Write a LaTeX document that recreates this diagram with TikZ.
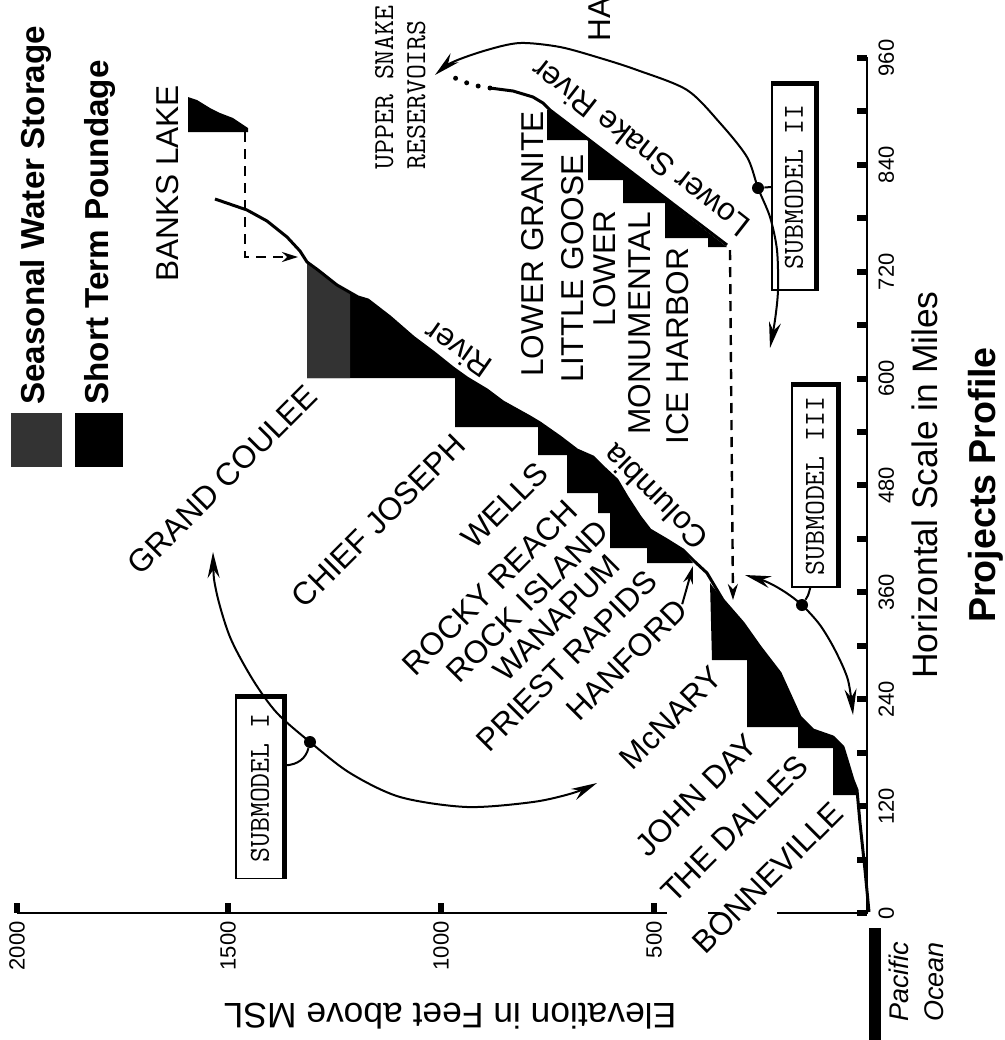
\documentclass[tikz,border=0pt]{standalone}
\usepackage{fontspec}
\setmainfont{Liberation Sans}
\usetikzlibrary{arrows.meta, calc}

\begin{document}
\begin{tikzpicture}[x=0.5pt, y=-0.5pt,
    lbl/.style={font=\fontsize{15.8}{18}\selectfont, inner sep=0},
    dam/.style={lbl, rotate=45, anchor=north east},
    vlbl/.style={lbl, rotate=90},
    num/.style={font=\fontsize{11}{13}\selectfont, inner sep=0, rotate=90},
    keytext/.style={font=\bfseries\fontsize{16.6}{19}\selectfont, inner sep=0, rotate=90, anchor=base west},
    subbox/.style={draw, line width=0.8pt, rotate=90, font=\ttfamily\fontsize{14.5}{16}\selectfont, inner sep=0},
    shadow/.style={line width=2.5pt},
    link/.style={line width=1pt, {Stealth[length=13pt,width=6pt]}-{Stealth[length=13pt,width=6pt]}},
    dot/.style={circle, fill, inner sep=0, minimum size=6pt},
    river/.style={line width=1.5pt, line join=round},
    pool/.style={fill=black},
    seasonal/.style={fill=black!80},
    feed/.style={line width=1.2pt, dash pattern=on 5pt off 3.5pt, -{Stealth[length=8pt,width=5pt]}},
    axis/.style={line width=1.3pt}
  ]
  \useasboundingbox (0,0) rectangle (1005,1040);

  % axes
  \draw[axis] (17,913) -- (667,913) (708,913) -- (720,913) (777,913) -- (867,913) -- (867,57);
  \foreach \x/\v in {17/2000, 228/1500, 441/1000, 654/500} {
    \fill ({\x-3},903) rectangle ({\x+3},913);
    \node[num, anchor=east] (e\v) at (\x,921) {\v};
  }
  \foreach \k in {0,...,16}
    \fill (857,{913-53.44*\k-3}) rectangle (867,{913-53.44*\k+3});
  \foreach \m [count=\i from 0] in {0,120,...,960}
    \node[num, anchor=north] (m\m) at (878,{913-106.88*\i}) {\m};
  \node[lbl, font=\fontsize{17.7}{20}\selectfont, rotate=90, anchor=base] (xlab) at (937,485) {Horizontal Scale in Miles};
  \node[lbl, font=\bfseries\fontsize{18.8}{21}\selectfont, rotate=90, anchor=base] (title) at (995,485) {Projects Profile};
  \node[lbl, font=\fontsize{17.7}{20}\selectfont, rotate=180, anchor=base] (ylab) at (450,1003) {Elevation in Feet above MSL};

  % ocean
  \fill (869,928) rectangle (881,1040);
  \node[vlbl, font=\itshape\fontsize{13.5}{16}\selectfont, anchor=base west] (pac) at (908,1022) {Pacific};
  \node[vlbl, font=\itshape\fontsize{13.5}{16}\selectfont, anchor=base west] (oce) at (943,1022) {Ocean};

  % key
  \fill[seasonal] (11,413) rectangle (62,467);
  \fill[pool] (75,413) rectangle (123,467);
  \node[keytext] (k1) at (45,405) {Seasonal Water Storage};
  \node[keytext] (k2) at (108,405) {Short Term Poundage};

  % pools
  \fill[pool] (188,97) -- (197,100) -- (210,108) -- (220,113) -- (233,118) -- (248,128) -- (248,132) -- (188,132) -- cycle;
  \fill[pool] (307,262) -- (307,378) -- (455,378) -- (455,427) -- (538,427) -- (538,455) -- (567,455) -- (567,493) -- (598,493) -- (598,513) -- (610,513) -- (610,548) -- (647,548) -- (647,563) -- (693,563) -- (683,550) -- (667,540) -- (650,530) -- (640,517) -- (627,497) -- (617,480) -- (603,467) -- (593,457) -- (577,450) -- (560,437) -- (540,423) -- (530,417) -- (503,402) -- (487,390) -- (467,378) -- (453,368) -- (433,352) -- (413,337) -- (390,317) -- (368,300) -- (358,297) -- (337,285) -- (318,270) -- cycle;
  \fill[seasonal] (307,262) -- (318,270) -- (337,285) -- (350,292) -- (350,378) -- (307,378) -- cycle;
  \fill[pool] (710,583) -- (712,660) -- (747,660) -- (747,727) -- (798,727) -- (798,748) -- (833,748) -- (833,795) -- (858,795) -- (857,790) -- (853,780) -- (847,760) -- (843,747) -- (833,737) -- (813,730) -- (800,717) -- (780,673) -- (760,647) -- (743,623) -- (723,600) -- cycle;
  \fill[pool] (547,110) -- (547,140) -- (588,140) -- (588,180) -- (623,180) -- (623,203) -- (665,203) -- (665,238) -- (708,238) -- (708,247) -- (727,247) -- (550,110) -- cycle;

  % rivers
  \draw[river] (215,199) -- (247,210) -- (267,221) -- (287,237) -- (300,251) -- (307,262) -- (318,270) -- (337,285) -- (358,297) -- (368,300) -- (390,317) -- (413,337) -- (433,352) -- (453,368) -- (467,378) -- (487,390) -- (503,402) -- (530,417) -- (540,423) -- (560,437) -- (577,450) -- (593,457) -- (603,467) -- (617,480) -- (627,497) -- (640,517) -- (650,530) -- (667,540) -- (683,550) -- (693,560) -- (707,573) -- (723,600) -- (743,623) -- (760,647) -- (780,673) -- (800,717) -- (813,730) -- (833,737) -- (843,747) -- (847,760) -- (853,780) -- (857,790) -- (860,823) -- (865,870) -- (869,912);
  \draw[river] (490,88) -- (513,91) -- (533,97) -- (543,103) -- (550,110) -- (727,245);
  \draw[line width=2.5pt, line cap=round, dash pattern=on 0pt off 6pt] (490,88) -- (472,85) -- (455,78);

  % transfers
  \coordinate (blk) at (245,132);
  \coordinate (gctop) at (298,257);
  \draw[feed] (blk) -- (blk |- gctop) -- (gctop);
  \coordinate (ih) at (730,250);
  \coordinate (conf) at (733,600);
  \draw[feed] (ih) -- (conf);

  % submodels
  \node[subbox, minimum width=90.5pt, minimum height=24pt] (s1) at (260,788) {SUBMODEL I};
  \node[subbox, minimum width=103pt, minimum height=22pt] (s2) at (794,187) {SUBMODEL II};
  \node[subbox, minimum width=101pt, minimum height=23pt] (s3) at (815,486) {SUBMODEL III};
  \foreach \s in {s1,s2,s3}
    \draw[shadow] (\s.north east) -- (\s.south east) -- (\s.south west);
  \node[dot] (c1) at (310,742) {};
  \node[dot] (c2) at (758,188) {};
  \node[dot] (c3) at (802,605) {};
  \draw[link] plot[smooth] coordinates {(213,552) (216,590) (230,637) (253,680) (277,713) (310,742) (350,773) (400,797) (467,807) (533,802) (573,793) (597,783)};
  \draw[link] plot[smooth] coordinates {(435,75) (453,62) (487,50) (520,43) (560,47) (600,58) (637,70) (687,90) (720,123) (747,157) (758,188) (770,217) (777,250) (778,290) (775,320) (770,348)};
  \draw[link] plot[smooth] coordinates {(745,575) (767,582) (785,592) (802,605) (820,625) (835,650) (848,680) (853,715)};
  \draw[line width=1pt] (c1) .. controls (306,758) and (298,765) .. ($(s1.south east)!0.376!(s1.south west)$);
  \draw[line width=1pt] (c2) -- (s2.north);
  \draw[line width=1pt] (c3) .. controls (808,596) .. ($(s3.north west)!0.4!(s3.south west)$);

  % labels
  \node[vlbl, anchor=base west] (bkl) at (178,282) {BANKS LAKE};
  \node[vlbl, font=\ttfamily\fontsize{14.5}{16}\selectfont, anchor=base west] (us1) at (393,170) {UPPER SNAKE};
  \node[vlbl, font=\ttfamily\fontsize{14.5}{16}\selectfont, anchor=base west] (us2) at (425,170) {RESERVOIRS};
  \node[vlbl, anchor=base west] (hag) at (610,42) {HA};
  \node[dam] (gcl) at (304,382) {GRAND COULEE};
  \node[dam] (cjl) at (452,431) {CHIEF JOSEPH};
  \node[dam] (wel) at (535,459) {WELLS};
  \node[dam] (rrl) at (564,497) {ROCKY REACH};
  \node[dam] (ril) at (595,517) {ROCK ISLAND};
  \node[dam] (wal) at (607,552) {WANAPUM};
  \node[dam] (prl) at (644,567) {PRIEST RAPIDS};
  \node[dam] (hal) at (674,596) {HANFORD};
  \node[dam] (mcl) at (709,664) {McNARY};
  \node[dam] (jdl) at (744,731) {JOHN DAY};
  \node[dam] (tdl) at (795,752) {THE DALLES};
  \node[dam] (bol) at (830,799) {BONNEVILLE};
  \coordinate (hanr) at (693,566);
  \draw[line width=1pt, -{Stealth[length=9pt,width=5pt]}] (hal.east) -- (hanr);
  \node[vlbl, anchor=base west] (lgl) at (543,377) {LOWER GRANITE};
  \node[vlbl, anchor=base west] (lgo) at (583,383) {LITTLE GOOSE};
  \node[vlbl, anchor=base east] (lm1) at (615,210) {LOWER};
  \node[vlbl, anchor=base east] (lm2) at (650,212) {MONUMENTAL};
  \node[vlbl, anchor=base west] (ihl) at (688,445) {ICE HARBOR};
  \node[lbl, rotate=142] (snr) at (640,148) {Lower Snake River};
  \node[lbl, rotate=135] (col) at (655,497) {Columbia};
  \node[lbl, rotate=145] (riv) at (458,350) {River};
\end{tikzpicture}
\end{document}
